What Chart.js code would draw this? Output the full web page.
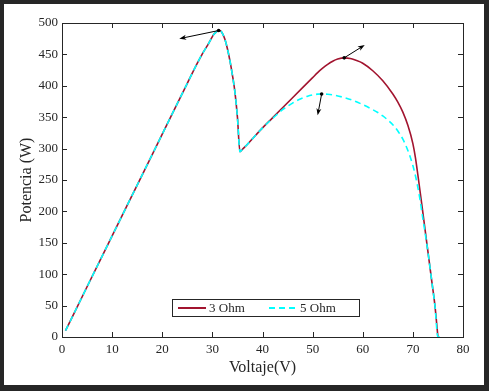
<!DOCTYPE html>
<html>
<head>
<meta charset="utf-8">
<script src="https://cdn.jsdelivr.net/npm/chart.js@4"></script>
<style>
  html, body { margin: 0; padding: 0; background: #262626; }
  #wrap { width: 489px; height: 391px; }
</style>
</head>
<body>
<div id="wrap"><canvas id="pv"></canvas></div>
<script>
// curve 3 Ohm
const volt3 = [0.7, 5, 10, 15, 20, 25, 27, 28, 29, 29.7, 30.3, 30.8, 31.25, 31.7, 32.1, 32.5, 33, 33.5, 34, 34.5, 35, 35.5,
  36, 37, 40, 42, 45, 46, 48, 49, 50, 51, 52, 53, 54, 55, 56.3, 57.5, 58.5, 60, 62, 64, 66, 67, 68, 69, 70,
  70.5, 71.1, 71.8, 72.4, 73.1, 73.8, 74.4, 75];
const pow3 = [10, 80, 161, 242, 323, 404, 436, 451, 464, 474, 482, 486, 488, 487, 482, 474, 459, 440, 417, 390, 350, 295,
  299, 307, 333, 349, 373, 381, 397, 405, 413, 421, 428, 434, 439, 442.5, 444.5, 443.5, 441, 436, 424, 408, 387, 374, 358, 337, 308,
  286, 252, 210, 173, 130, 87, 50, 0];

// curve 5 Ohm
const volt5 = [0.7, 5, 10, 15, 20, 25, 27, 28, 29, 29.7, 30.3, 30.8, 31.25, 31.7, 32.1, 32.5, 33, 33.5, 34, 34.5, 35, 35.5,
  36, 37, 40, 42, 43, 44, 45, 46, 47, 48, 49, 50, 51, 51.8, 53, 54, 56, 58, 60, 62, 63, 64, 65, 66, 67, 68, 69, 70,
  70.7, 71.4, 72, 72.4, 73.1, 73.8, 74.4, 75, 75.9];
const pow5 = [10, 80, 161, 242, 323, 404, 436, 451, 464, 474, 482, 486, 488, 487, 482, 474, 459, 440, 417, 390, 350, 295,
  299, 307, 333, 348, 355, 362, 367.5, 372.5, 377, 380.5, 383.5, 385.5, 386.7, 387, 386.5, 385.5, 382, 377, 370, 362, 357.5, 352, 345.5, 338, 328, 315, 297, 273,
  250, 220, 188, 168, 130, 87, 50, 0, 0];

const seriesLabels = ["3 Ohm", "5 Ohm"];

// marked maxima and the arrow tips that point away from them
const markV = [31.25, 56.3, 51.8];
const markP = [488, 444.5, 387];
const arrowV = [23.4, 60.4, 51.0];
const arrowP = [475, 465, 353];

const xTicks = [0, 10, 20, 30, 40, 50, 60, 70, 80];
const yTicks = [0, 50, 100, 150, 200, 250, 300, 350, 400, 450, 500];

const ink = "#262626";
const serif = "'Liberation Serif', 'DejaVu Serif', serif";

const toPts = (xs, ys) => xs.map((v, i) => ({ x: v, y: ys[i] }));

const framePlugin = {
  id: "frame",
  beforeDraw(chart) {
    const c = chart.ctx;
    c.save();
    c.fillStyle = ink;
    c.fillRect(0, 0, chart.width, chart.height);
    c.fillStyle = "#fff";
    c.fillRect(4, 4, chart.width - 9, chart.height - 10);
    c.restore();
  },
  afterDraw(chart) {
    const c = chart.ctx;
    const a = chart.chartArea;
    const xs = chart.scales.x, ys = chart.scales.y;
    c.save();
    c.strokeStyle = ink;
    c.lineWidth = 1;
    // inward ticks on all four sides
    c.beginPath();
    xTicks.forEach((t) => {
      const px = Math.round(xs.getPixelForValue(t)) + 0.5;
      c.moveTo(px, a.bottom); c.lineTo(px, a.bottom - 5);
      c.moveTo(px, a.top); c.lineTo(px, a.top + 5);
    });
    yTicks.forEach((t) => {
      const py = Math.round(ys.getPixelForValue(t)) + 0.5;
      c.moveTo(a.left, py); c.lineTo(a.left + 5, py);
      c.moveTo(a.right, py); c.lineTo(a.right - 5, py);
    });
    c.stroke();
    c.strokeRect(Math.round(a.left) + 0.5, Math.round(a.top) + 0.5,
      Math.round(a.right - a.left), Math.round(a.bottom - a.top));

    // arrows + dots
    c.fillStyle = "#000";
    c.strokeStyle = "#000";
    markV.forEach((v, i) => {
      const x0 = xs.getPixelForValue(v), y0 = ys.getPixelForValue(markP[i]);
      const x1 = xs.getPixelForValue(arrowV[i]), y1 = ys.getPixelForValue(arrowP[i]);
      const ang = Math.atan2(y1 - y0, x1 - x0);
      c.lineWidth = 1;
      c.beginPath();
      c.moveTo(x0, y0);
      c.lineTo(x1 - 4 * Math.cos(ang), y1 - 4 * Math.sin(ang));
      c.stroke();
      c.beginPath();
      c.moveTo(x1, y1);
      c.lineTo(x1 - 7 * Math.cos(ang) + 2.5 * Math.sin(ang), y1 - 7 * Math.sin(ang) - 2.5 * Math.cos(ang));
      c.lineTo(x1 - 5 * Math.cos(ang), y1 - 5 * Math.sin(ang));
      c.lineTo(x1 - 7 * Math.cos(ang) - 2.5 * Math.sin(ang), y1 - 7 * Math.sin(ang) + 2.5 * Math.cos(ang));
      c.closePath();
      c.fill();
      c.beginPath();
      c.arc(x0, y0, 1.8, 0, Math.PI * 2);
      c.fill();
    });

    // legend box inside the axes
    const lx = a.left + 110, ly = a.top + 276, lw = 187, lh = 17;
    c.fillStyle = "#fff";
    c.fillRect(lx, ly, lw, lh);
    c.strokeStyle = ink;
    c.lineWidth = 1;
    c.strokeRect(Math.round(lx) + 0.5, Math.round(ly) + 0.5, lw, lh);
    const ds = chart.data.datasets;
    const items = [{ d: ds[1], x: lx + 6 }, { d: ds[0], x: lx + 97 }];
    c.font = "13px " + serif;
    c.textBaseline = "middle";
    items.forEach((it) => {
      c.strokeStyle = it.d.borderColor;
      c.lineWidth = 2;
      c.setLineDash(it.d.borderDash || []);
      c.beginPath();
      c.moveTo(it.x, ly + lh / 2 + 0.5);
      c.lineTo(it.x + 28, ly + lh / 2 + 0.5);
      c.stroke();
      c.setLineDash([]);
      c.fillStyle = ink;
      c.fillText(it.d.label, it.x + 31, ly + lh / 2 + 1);
    });
    c.restore();
  }
};

new Chart(document.getElementById("pv"), {
  type: "line",
  data: {
    datasets: [
      {
        label: seriesLabels[1],
        data: toPts(volt5, pow5),
        borderColor: "#00FFFF",
        borderWidth: 1.6,
        borderDash: [6, 4],
        pointRadius: 0,
        cubicInterpolationMode: "monotone",
        order: 0
      },
      {
        label: seriesLabels[0],
        data: toPts(volt3, pow3),
        borderColor: "#A2142F",
        borderWidth: 1.6,
        pointRadius: 0,
        cubicInterpolationMode: "monotone",
        order: 1
      }
    ]
  },
  options: {
    responsive: true,
    maintainAspectRatio: false,
    animation: false,
    layout: { padding: { left: 15, top: 23, right: 26, bottom: 14 } },
    plugins: { legend: { display: false }, tooltip: { enabled: false } },
    scales: {
      x: {
        type: "linear",
        min: 0,
        max: 80,
        afterBuildTicks: (s) => { s.ticks = xTicks.map((v) => ({ value: v })); },
        afterFit: (s) => { s.height = 40; },
        grid: { display: false, drawTicks: false },
        border: { display: false },
        ticks: { color: ink, padding: 5, font: { family: serif, size: 13 }, maxRotation: 0 },
        title: { display: true, text: "Voltaje(V)", color: ink, padding: { top: 0, bottom: 0 }, font: { family: serif, size: 16 } }
      },
      y: {
        min: 0,
        max: 500,
        afterBuildTicks: (s) => { s.ticks = yTicks.map((v) => ({ value: v })); },
        afterFit: (s) => { s.width = 47; },
        grid: { display: false, drawTicks: false },
        border: { display: false },
        ticks: { color: ink, padding: 4, font: { family: serif, size: 13 } },
        title: { display: true, text: "Potencia (W)", color: ink, padding: { top: 2, bottom: 0 }, font: { family: serif, size: 16 } }
      }
    }
  },
  plugins: [framePlugin]
});
</script>
</body>
</html>
